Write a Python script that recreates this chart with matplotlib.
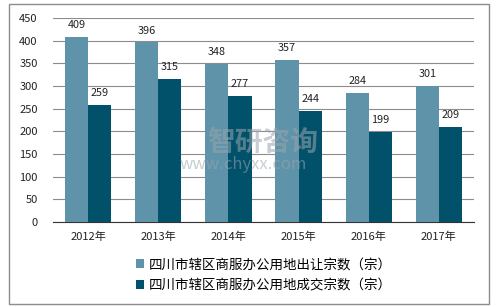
import matplotlib
matplotlib.use("Agg")
import matplotlib.pyplot as plt
from matplotlib.patches import Rectangle
import numpy as np

plt.rcParams['font.family'] = ['Noto Sans CJK SC', 'DejaVu Sans']

years = ['2012年', '2013年', '2014年', '2015年', '2016年', '2017年']
sold = [409, 396, 348, 357, 284, 301]
deal = [259, 315, 277, 244, 199, 209]
labelSold = '四川市辖区商服办公用地出让宗数（宗）'
labelDeal = '四川市辖区商服办公用地成交宗数（宗）'

colorSold = '#5f93aa'
colorDeal = '#01516b'

fig = plt.figure(figsize=(4.98, 3.07), dpi=100)
ax = fig.add_axes([0.1064, 0.2769, 0.8454, 0.6645])

# outer frame
fig.patches.append(Rectangle((9/498, 1-304/307), 480/498, 300/307, transform=fig.transFigure,
                             fill=False, edgecolor='#8c8c8c', linewidth=1.0))

x = np.arange(len(years))
w = 0.33
b1 = ax.bar(x - w/2, sold, w, color=colorSold, label=labelSold, zorder=3)
b2 = ax.bar(x + w/2, deal, w, color=colorDeal, label=labelDeal, zorder=3)

for bars in (b1, b2):
    for r in bars:
        ax.annotate(str(int(r.get_height())), (r.get_x() + r.get_width()/2, r.get_height()),
                    xytext=(0, 5), textcoords='offset points', ha='center', va='bottom',
                    fontsize=7.8, color='#222222')

ax.set_xlim(-0.5, len(years) - 0.5)
ax.set_ylim(0, 450)
ax.set_yticks(np.arange(0, 451, 50))
ax.set_xticks(x)
ax.set_xticklabels(years)
ax.grid(axis='y', color='#8c8c8c', linewidth=0.8, zorder=0)
for s in ['left', 'right', 'top']:
    ax.spines[s].set_visible(False)
ax.spines['bottom'].set_color('#333333')
ax.tick_params(axis='both', length=0, labelsize=8, colors='#222222')
ax.tick_params(axis='x', pad=7)
ax.tick_params(axis='y', pad=11)

# watermark
fig.text(0.416, 0.534, '智研咨询', fontsize=20, color='#9aa5ad', alpha=0.55, ha='left', va='center', fontweight='bold')
fig.text(0.361, 0.463, 'www.chyxx.com', fontsize=12, color='#9aa5ad', alpha=0.55, ha='left', va='center')

ax.legend(loc='upper left', bbox_to_anchor=(0.198, -0.172), frameon=False,
          fontsize=9.7, handlelength=0.6, handleheight=0.6, handletextpad=0.3,
          labelspacing=0.55, borderaxespad=0, borderpad=0)

fig.savefig('out.png', dpi=100)
